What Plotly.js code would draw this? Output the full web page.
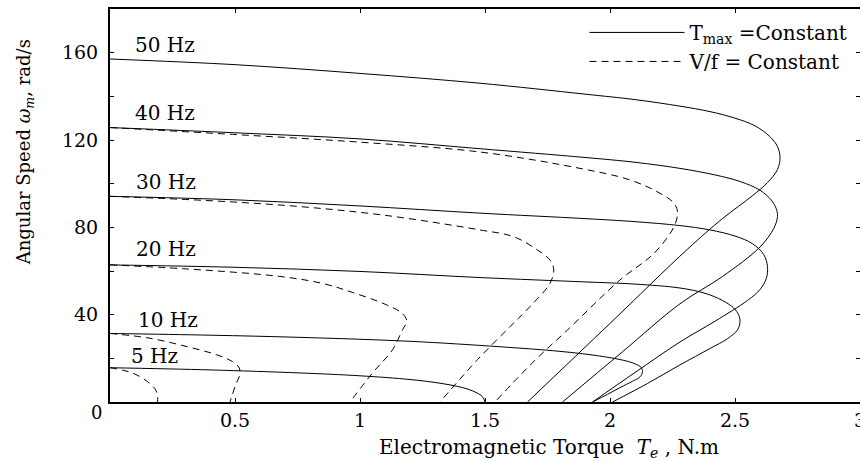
<!DOCTYPE html>
<html>
<head>
<meta charset="utf-8">
<script src="https://cdn.plot.ly/plotly-3.0.1.min.js"></script>
<style>html,body{margin:0;padding:0;background:#fff;}</style>
</head>
<body>
<div id="chart" style="width:860px;height:461px;"></div>
<script>
// Frequencies (Hz) and curve labels
const freqLabels = ['50 Hz', '40 Hz', '30 Hz', '20 Hz', '10 Hz', '5 Hz'];
const labelT = [0.22, 0.22, 0.225, 0.225, 0.232, 0.176];
const labelW = [163.5, 132.4, 100.8, 70.1, 37.6, 21.1];

// T_max = Constant (solid) curves: torque (N.m) and speed (rad/s)
const s50_T = [0, 0.5, 1.0, 1.48, 1.9, 2.1, 2.28, 2.4, 2.5, 2.58, 2.64, 2.67, 2.68, 2.67, 2.63, 2.57, 2.45, 2.31, 2.0, 1.67];
const s50_W = [157.1, 154.5, 150.5, 146, 141, 138.5, 135.5, 133, 130, 126.5, 121.5, 117, 112, 106.5, 100.5, 94.5, 84, 70, 36, 0];
const s40_T = [0, 0.5, 1.0, 1.48, 1.9, 2.1, 2.28, 2.42, 2.52, 2.6, 2.645, 2.665, 2.67, 2.655, 2.60, 2.45, 2.28, 2.05, 1.81];
const s40_W = [125.7, 123.3, 120.5, 116, 112, 109.8, 107, 104, 101, 97, 92.5, 88.5, 85, 79.5, 71, 57.5, 45, 23, 0];
const s30_T = [0, 0.5, 1.0, 1.48, 1.9, 2.1, 2.28, 2.4, 2.5, 2.57, 2.615, 2.63, 2.625, 2.6, 2.55, 2.42, 2.28, 2.1, 1.93];
const s30_W = [94.2, 92.6, 89.8, 86.5, 84, 82.6, 80.8, 78.8, 76, 72.5, 67.5, 62, 56.5, 51.5, 46.5, 37, 27.5, 13.5, 0];
const s20_T = [0, 0.5, 1.0, 1.48, 1.9, 2.1, 2.28, 2.38, 2.45, 2.495, 2.515, 2.52, 2.51, 2.47, 2.40, 2.28, 2.15, 2.01];
const s20_W = [62.8, 61.7, 59.8, 57, 55, 54, 52.2, 49.8, 46.5, 43, 39.8, 36.8, 33, 29, 24.5, 17, 8.5, 0];
const s10_T = [0, 0.4, 0.76, 1.2, 1.56, 1.8, 1.95, 2.05, 2.1, 2.125, 2.13, 2.12, 2.09, 2.04, 1.99, 1.93];
const s10_W = [31.4, 30.6, 29.6, 27.8, 25.3, 23.2, 21.2, 19.2, 17.5, 15.8, 13.9, 11.5, 9.5, 6.6, 3.5, 0];
const s5_T = [0, 0.4, 0.76, 1.0, 1.2, 1.32, 1.41, 1.46, 1.49, 1.50];
const s5_W = [15.7, 14.7, 13.3, 12.0, 10.3, 8.6, 6.6, 4.6, 2.4, 0];

// V/f = Constant (dashed) curves
const d40_T = [0, 0.5, 1.0, 1.48, 1.88, 2.08, 2.2, 2.256, 2.27, 2.256, 2.176, 2.04, 1.83, 1.69, 1.54];
const d40_W = [125.7, 122.5, 119, 114.5, 107, 101.7, 95.6, 91, 87, 80.3, 68.1, 55.9, 33, 18, 0];
const d30_T = [0, 0.4, 0.76, 1.1, 1.48, 1.615, 1.71, 1.76, 1.775, 1.76, 1.68, 1.60, 1.47, 1.32];
const d30_W = [94.2, 92.2, 89.5, 85.5, 78.8, 75.7, 69.6, 65, 60.5, 54.4, 43.7, 34.5, 19.4, 0];
const d20_T = [0, 0.3, 0.68, 0.85, 0.975, 1.106, 1.17, 1.187, 1.17, 1.13, 1.05, 0.96];
const d20_W = [62.8, 61, 57.5, 54.3, 50, 44.5, 40.5, 37, 33.1, 23.9, 13.3, 0];
const d10_T = [0, 0.16, 0.31, 0.43, 0.49, 0.515, 0.52, 0.50, 0.48];
const d10_W = [31.4, 29.2, 25.3, 21.5, 18.5, 16, 13.1, 7, 0];
const d5_T = [0, 0.05, 0.1, 0.15, 0.18, 0.19, 0.19];
const d5_W = [15.7, 14.6, 12.8, 9.3, 6, 3, 0];

// Axis ticks
const xTickVals = [0, 0.5, 1, 1.5, 2, 2.5, 3];
const xTickText = ['', '0.5', '1', '1.5', '2', '2.5', '3'];
const yTickVals = [0, 20, 40, 60, 80, 100, 120, 140, 160, 180];
const yTickText = ['', '', '40', '', '80', '', '120', '', '160', ''];

const FONT = 'DejaVu Serif, Liberation Serif, serif';

const solidSets = [[s50_T, s50_W], [s40_T, s40_W], [s30_T, s30_W], [s20_T, s20_W], [s10_T, s10_W], [s5_T, s5_W]];
const dashSets = [[d40_T, d40_W], [d30_T, d30_W], [d20_T, d20_W], [d10_T, d10_W], [d5_T, d5_W]];

const traces = [];
solidSets.forEach((s, i) => {
  traces.push({
    x: s[0], y: s[1], type: 'scatter', mode: 'lines',
    line: {color: '#000', width: 1, shape: 'spline', smoothing: 1},
    name: 'T<sub>max</sub> =Constant', legendgroup: 'tmax', showlegend: i === 0,
    hoverinfo: 'skip'
  });
});
dashSets.forEach((s, i) => {
  traces.push({
    x: s[0], y: s[1], type: 'scatter', mode: 'lines',
    line: {color: '#000', width: 1, dash: '7px,5px', shape: 'spline', smoothing: 1},
    name: 'V/f = Constant', legendgroup: 'vf', showlegend: i === 0,
    hoverinfo: 'skip'
  });
});

const annotations = freqLabels.map((t, i) => ({
  text: t, x: labelT[i], y: labelW[i], xref: 'x', yref: 'y',
  showarrow: false, font: {family: FONT, size: 20, color: '#000'}
}));
annotations.push({
  text: 'Electromagnetic Torque  <i>T<sub>e</sub></i> , N.m',
  xref: 'paper', yref: 'paper', x: 0.585, y: 0, yshift: -46, yanchor: 'middle', xanchor: 'center',
  showarrow: false, font: {family: FONT, size: 20, color: '#000'}
});
annotations.push({
  text: 'Angular Speed <i>ω<sub>m</sub></i>, rad/s',
  xref: 'paper', yref: 'paper', x: -0.113, y: 0.636, textangle: -90,
  xanchor: 'center', yanchor: 'middle',
  showarrow: false, font: {family: FONT, size: 18, color: '#000'}
});
annotations.push({
  text: '0', xref: 'x', yref: 'paper', x: 0, y: 0, xshift: -14, yshift: -10,
  xanchor: 'center', yanchor: 'middle',
  showarrow: false, font: {family: FONT, size: 18, color: '#000'}
});

const layout = {
  width: 860, height: 461,
  margin: {l: 110, r: 0, t: 9, b: 59, pad: 0},
  paper_bgcolor: '#fff', plot_bgcolor: '#fff',
  font: {family: FONT, color: '#000', size: 18},
  showlegend: true,
  legend: {
    x: 0.99, xanchor: 'right', y: 0.99, yanchor: 'top',
    bgcolor: 'rgba(0,0,0,0)', borderwidth: 0,
    font: {family: FONT, size: 20, color: '#000'},
    itemwidth: 95, tracegroupgap: 0
  },
  xaxis: {
    range: [0, 3], showgrid: false, zeroline: false,
    showline: true, linecolor: '#000', linewidth: 2, mirror: 'ticks',
    ticks: 'inside', ticklen: 4, tickwidth: 1, tickcolor: '#000',
    tickmode: 'array', tickvals: xTickVals, ticktext: xTickText,
    ticklabeloverflow: 'allow',
    tickfont: {family: FONT, size: 19, color: '#000'}
  },
  yaxis: {
    range: [0, 180], showgrid: false, zeroline: false,
    showline: true, linecolor: '#000', linewidth: 2, mirror: 'ticks',
    ticks: 'inside', ticklen: 4, tickwidth: 1, tickcolor: '#000',
    tickmode: 'array', tickvals: yTickVals, ticktext: yTickText,
    ticklabelstandoff: 6,
    tickfont: {family: FONT, size: 19, color: '#000'}
  },
  annotations: annotations
};

Plotly.newPlot('chart', traces, layout, {displayModeBar: false, staticPlot: true});
</script>
</body>
</html>
